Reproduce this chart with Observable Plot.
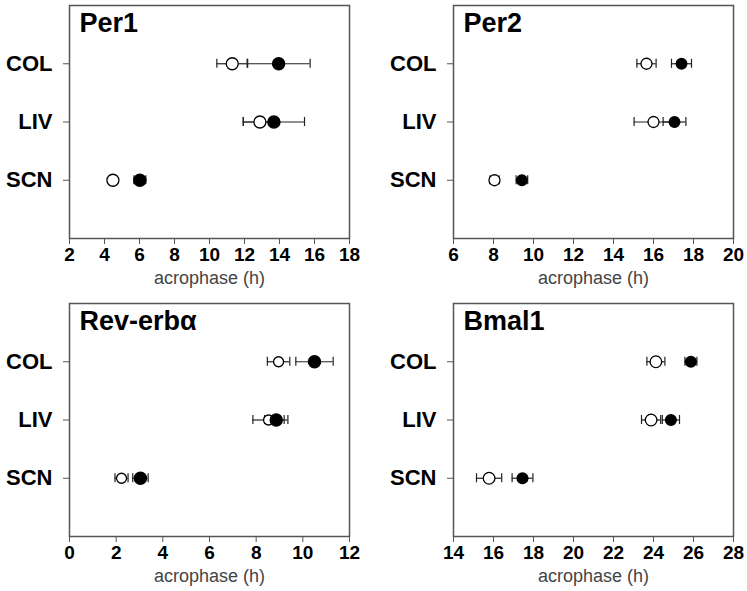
<!DOCTYPE html>
<html><head><meta charset="utf-8">
<script src="https://cdn.jsdelivr.net/npm/d3@7"></script>
<script src="https://cdn.jsdelivr.net/npm/@observablehq/plot@0.6"></script>
<style>
body{margin:0;background:#fff;font-family:"Liberation Sans",Arial,sans-serif;}
#wrap{position:relative;width:747px;height:591px;overflow:hidden;}
.panel{position:absolute;}
</style></head><body><div id="wrap"></div>
<script>
// categories (top to bottom)
const tissues = ["COL", "LIV", "SCN"];
const genes = ["Per1", "Per2", "Rev-erbα", "Bmal1"];
const xDomains = [[2, 18], [6, 20], [0, 12], [14, 28]];
const xTicks = [
  [2, 4, 6, 8, 10, 12, 14, 16, 18],
  [6, 8, 10, 12, 14, 16, 18, 20],
  [0, 2, 4, 6, 8, 10, 12],
  [14, 16, 18, 20, 22, 24, 26, 28]
];
const axisLabel = "acrophase (h)";

// acrophase means and errors, per gene, order COL, LIV, SCN
const per1Open = [11.3, 12.88, 4.48];
const per1OpenErr = [0.88, 0.95, 0];
const per1Filled = [13.95, 13.68, 6.02];
const per1FilledErr = [1.8, 1.75, 0.34];

const per2Open = [15.65, 16.0, 8.05];
const per2OpenErr = [0.48, 0.97, 0.23];
const per2Filled = [17.4, 17.05, 9.42];
const per2FilledErr = [0.5, 0.57, 0.29];

const revOpen = [8.96, 8.53, 2.23];
const revOpenErr = [0.48, 0.67, 0.28];
const revFilled = [10.5, 8.86, 3.04];
const revFilledErr = [0.8, 0.5, 0.33];

const bmalOpen = [24.12, 23.88, 15.78];
const bmalOpenErr = [0.45, 0.48, 0.63];
const bmalFilled = [25.87, 24.87, 17.45];
const bmalFilledErr = [0.3, 0.43, 0.52];

const series = [
  [per1Open, per1OpenErr, per1Filled, per1FilledErr],
  [per2Open, per2OpenErr, per2Filled, per2FilledErr],
  [revOpen, revOpenErr, revFilled, revFilledErr],
  [bmalOpen, bmalOpenErr, bmalFilled, bmalFilledErr]
];

// layout: left, top, width, height, marginLeft, marginRight, marginTop, marginBottom, rOpen, rFilled
const layout = [
  [0, 0, 373, 295, 69, 24, 5, 57, 6, 6],
  [383, 0, 364, 295, 70, 14, 5, 57, 5.5, 5.2],
  [0, 298, 373, 293, 69, 24, 5, 55, 5, 6],
  [383, 298, 364, 293, 70, 14, 5, 55, 5.8, 5.3]
];

const wrap = document.getElementById("wrap");
const capH = 0.078;

genes.forEach((g, k) => {
  const [om, oe, fm, fe] = series[k];
  const rows = [];
  tissues.forEach((t, i) => {
    rows.push({tissue: t, y: tissues.length - i, kind: "open", m: om[i], e: oe[i]});
    rows.push({tissue: t, y: tissues.length - i, kind: "filled", m: fm[i], e: fe[i]});
  });
  const withErr = rows.filter(d => d.e > 0);
  const [left, top, w, h, ml, mr, mt, mb, ro, rf] = layout[k];
  const chart = Plot.plot({
    width: w, height: h,
    marginLeft: ml, marginRight: mr, marginTop: mt, marginBottom: mb,
    style: {fontFamily: "Liberation Sans, Arial, sans-serif", background: "white", color: "black"},
    x: {domain: xDomains[k]},
    y: {domain: [0, tissues.length + 1]},
    marks: [
      Plot.ruleY(withErr, {y: "y", x1: d => d.m - d.e, x2: d => d.m + d.e, stroke: "#222", strokeWidth: 1.2}),
      Plot.ruleX(withErr, {x: d => d.m - d.e, y1: d => d.y - capH, y2: d => d.y + capH, stroke: "#222", strokeWidth: 1.2}),
      Plot.ruleX(withErr, {x: d => d.m + d.e, y1: d => d.y - capH, y2: d => d.y + capH, stroke: "#222", strokeWidth: 1.2}),
      Plot.dot(rows.filter(d => d.kind === "open"), {x: "m", y: "y", r: ro, fill: "white", stroke: "black", strokeWidth: 1.3}),
      Plot.dot(rows.filter(d => d.kind === "filled"), {x: "m", y: "y", r: rf, fill: "black", stroke: "black"}),
      Plot.frame({stroke: "#555", strokeWidth: 1.5}),
      Plot.axisY({ticks: tissues.map((t, i) => tissues.length - i), tickFormat: d => tissues[tissues.length - d],
        tickSize: 6, tickPadding: 11, fontSize: 22, fontWeight: "bold", stroke: "#555", fill: "black", label: null}),
      Plot.axisX({ticks: xTicks[k], tickFormat: d => String(d), tickSize: 6, tickPadding: 3,
        fontSize: 19, fontWeight: "bold", stroke: "#555", fill: "black", label: null}),
      Plot.text([g], {text: d => d, frameAnchor: "top-left", dx: 10, dy: 7, lineAnchor: "top",
        textAnchor: "start", fontSize: 27, fontWeight: "bold", fill: "black"}),
      Plot.text([axisLabel], {text: d => d, frameAnchor: "bottom", dy: 40, lineAnchor: "middle",
        fontSize: 18, fill: "#444"})
    ]
  });
  const div = document.createElement("div");
  div.className = "panel";
  div.style.left = left + "px";
  div.style.top = top + "px";
  div.appendChild(chart);
  wrap.appendChild(div);
});
</script>
</body></html>
